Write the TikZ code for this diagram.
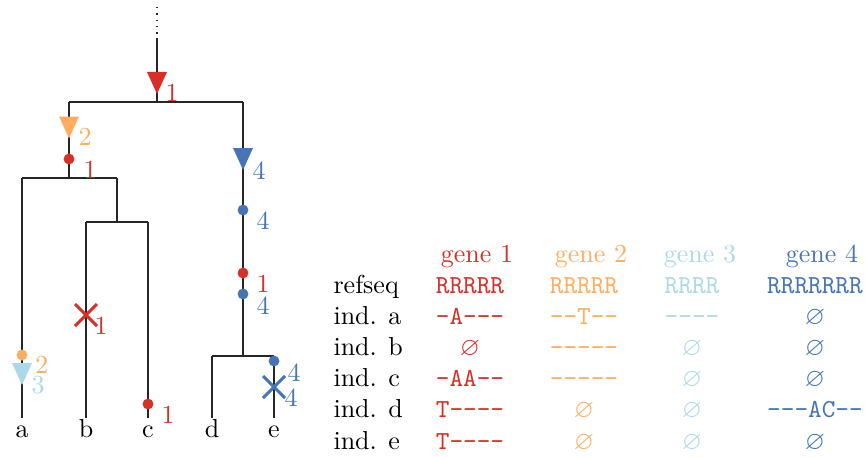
\documentclass[tikz,border=0pt]{standalone}
\usepackage{amssymb}
\definecolor{gA}{HTML}{D73027}
\definecolor{gB}{HTML}{FDAE61}
\definecolor{gC}{HTML}{ABD9E9}
\definecolor{gD}{HTML}{4575B4}
\newcommand{\nil}{$\varnothing$}
\begin{document}
\begin{tikzpicture}[x=0.3846pt,y=-0.3846pt,
  edge/.style={line width=0.45pt,black!85},
  lbl/.style={inner sep=0pt,anchor=center},
  cell/.style={inner sep=0pt,anchor=base},
  rowlbl/.style={inner sep=0pt,anchor=base west},
  tri/.pic={\fill (-10,-11) -- (10,-11) -- (0,11) -- cycle;},
  dot/.pic={\fill (0,0) circle[radius=2.1pt];},
  cross/.pic={\draw[line width=1.1pt] (-11,-11) -- (11,11) (-11,11) -- (11,-11);}]
\useasboundingbox (0,0) rectangle (865,456);
% tree skeleton
\coordinate (top) at (157,7);
\coordinate (rootin) at (157,38);
\coordinate (root) at (157,102);
\coordinate (rL) at (69,102);
\coordinate (rR) at (243,102);
\coordinate (n1) at (69,178);
\coordinate (n1L) at (22,178);
\coordinate (n1R) at (117,178);
\coordinate (n2) at (117,222);
\coordinate (n2L) at (86,222);
\coordinate (n2R) at (148,222);
\coordinate (n3) at (243,356);
\coordinate (n3L) at (212,356);
\coordinate (n3R) at (274,356);
\coordinate (la) at (22,418);
\coordinate (lb) at (86,418);
\coordinate (lc) at (148,418);
\coordinate (ld) at (212,418);
\coordinate (le) at (274,418);
\draw[edge,dotted] (top) -- (rootin);
\draw[edge] (rootin) -- (root);
\draw[edge] (rL) -- (rR);
\draw[edge] (rL) -- (n1);
\draw[edge] (n1L) -- (n1R);
\draw[edge] (n1L) -- (la);
\draw[edge] (n1R) -- (n2);
\draw[edge] (n2L) -- (n2R);
\draw[edge] (n2L) -- (lb);
\draw[edge] (n2R) -- (lc);
\draw[edge] (rR) -- (n3);
\draw[edge] (n3L) -- (n3R);
\draw[edge] (n3L) -- (ld);
\draw[edge] (n3R) -- (le);
% leaf labels
\node[cell] (ta) at (22,437) {a};
\node[cell] (tb) at (86,437) {b};
\node[cell] (tc) at (148,437) {c};
\node[cell] (td) at (212,437) {d};
\node[cell] (te) at (274,437) {e};
% markers
\pic[gA] at (157,83) {tri};
\pic[gB] at (69,127.5) {tri};
\pic[gD] at (243,159) {tri};
\pic[gC] at (22,374) {tri};
\pic[gA] at (69,159) {dot};
\pic[gD] at (243,210) {dot};
\pic[gB] at (22,355) {dot};
\pic[gA] at (148,404) {dot};
\pic[gA] at (243,273) {dot};
\pic[gD] at (243,294) {dot};
\pic[gD] at (274,361) {dot};
\pic[gA] at (86,315) {cross};
\pic[gD] at (274,387) {cross};
% marker labels
\node[lbl,gA] (m1) at (172,93) {1};
\node[lbl,gB] (m2) at (85,137) {2};
\node[lbl,gA] (m3) at (90,170) {1};
\node[lbl,gD] (m4) at (259,171) {4};
\node[lbl,gD] (m5) at (263,221) {4};
\node[lbl,gB] (m6) at (42,365) {2};
\node[lbl,gC] (m7) at (38,385.5) {3};
\node[lbl,gA] (m8) at (101,326) {1};
\node[lbl,gA] (m9) at (168,415) {1};
\node[lbl,gA] (m10) at (263,284) {1};
\node[lbl,gD] (m11) at (263,306) {4};
\node[lbl,gD] (m12) at (294,373) {4};
\node[lbl,gD] (m13) at (291,398) {4};
% table headers
\node[cell,gA] (h1) at (477,262) {gene 1};
\node[cell,gB] (h2) at (591,262) {gene 2};
\node[cell,gC] (h3) at (700,262) {gene 3};
\node[cell,gD] (h4) at (822,262) {gene 4};
% row labels
\node[rowlbl] (r0) at (333,293) {refseq};
\node[rowlbl] (r1) at (333,324.2) {ind. a};
\node[rowlbl] (r2) at (333,355.4) {ind. b};
\node[rowlbl] (r3) at (333,386.6) {ind. c};
\node[rowlbl] (r4) at (333,417.8) {ind. d};
\node[rowlbl] (r5) at (333,449) {ind. e};
% gene 1
\node[cell,gA] (a0) at (470,293) {\texttt{RRRRR}};
\node[cell,gA] (a1) at (470,324.2) {\texttt{-A---}};
\node[cell,gA] (a2) at (470,355.4) {\nil};
\node[cell,gA] (a3) at (470,386.6) {\texttt{-AA--}};
\node[cell,gA] (a4) at (470,417.8) {\texttt{T----}};
\node[cell,gA] (a5) at (470,449) {\texttt{T----}};
% gene 2
\node[cell,gB] (b0) at (584,293) {\texttt{RRRRR}};
\node[cell,gB] (b1) at (584,324.2) {\texttt{--T--}};
\node[cell,gB] (b2) at (584,355.4) {\texttt{-----}};
\node[cell,gB] (b3) at (584,386.6) {\texttt{-----}};
\node[cell,gB] (b4) at (584,417.8) {\nil};
\node[cell,gB] (b5) at (584,449) {\nil};
% gene 3
\node[cell,gC] (c0) at (692,293) {\texttt{RRRR}};
\node[cell,gC] (c1) at (692,324.2) {\texttt{----}};
\node[cell,gC] (c2) at (692,355.4) {\nil};
\node[cell,gC] (c3) at (692,386.6) {\nil};
\node[cell,gC] (c4) at (692,417.8) {\nil};
\node[cell,gC] (c5) at (692,449) {\nil};
% gene 4
\node[cell,gD] (d0) at (815,293) {\texttt{RRRRRRR}};
\node[cell,gD] (d1) at (815,324.2) {\nil};
\node[cell,gD] (d2) at (815,355.4) {\nil};
\node[cell,gD] (d3) at (815,386.6) {\nil};
\node[cell,gD] (d4) at (815,417.8) {\texttt{---AC--}};
\node[cell,gD] (d5) at (815,449) {\nil};
\end{tikzpicture}
\end{document}
